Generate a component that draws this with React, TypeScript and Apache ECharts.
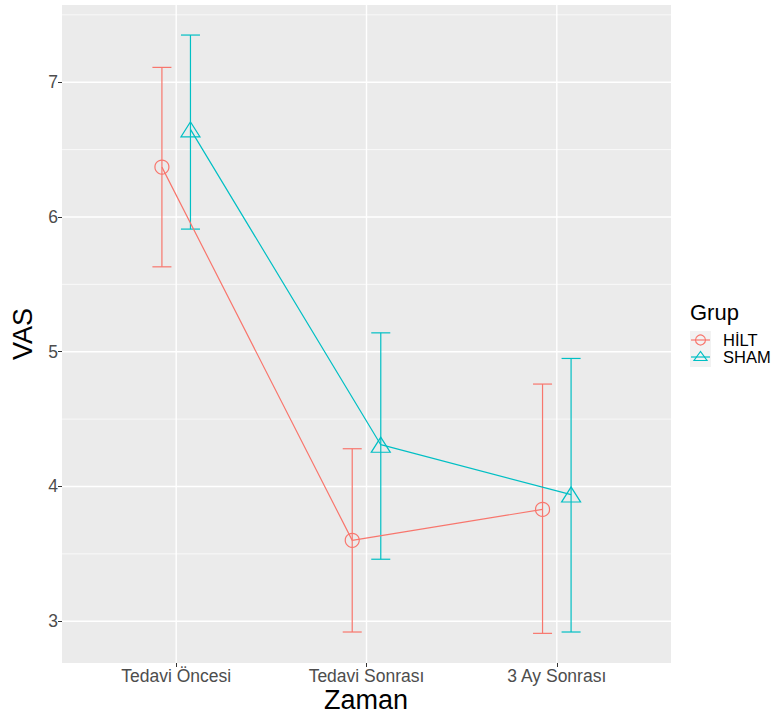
import React, { useEffect, useRef } from "react";
import * as echarts from "echarts";

const categories = ["Tedavi Öncesi", "Tedavi Sonrası", "3 Ay Sonrası"];
const groups = ["HİLT", "SHAM"];
const hiltMean = [6.37, 3.6, 3.83];
const hiltLow = [5.63, 2.92, 2.91];
const hiltHigh = [7.11, 4.28, 4.76];
const shamMean = [6.65, 4.31, 3.94];
const shamLow = [5.91, 3.46, 2.92];
const shamHigh = [7.35, 5.14, 4.95];
const yTicks = [3, 4, 5, 6, 7];
const yMinor = [3.5, 4.5, 5.5, 6.5, 7.5];

const RED = "#F8766D";
const CYAN = "#00BFC4";
const FONT = "Liberation Sans, Arial, Helvetica, sans-serif";
const DODGE = 0.075;
const CAP = 0.05;

export default function App() {
  const ref = useRef<HTMLDivElement>(null);
  useEffect(() => {
    if (!ref.current) return;
    const chart = echarts.init(ref.current, null, { renderer: "svg" });
    const catPos = categories.map((_, i) => i + 1);

    const errSeries = (color: string, off: number, lo: number[], hi: number[], name: string) => ({
      type: "custom",
      name: name + "_err",
      silent: true,
      z: 3,
      data: catPos.map((p, i) => [p + off, lo[i], hi[i]]),
      encode: { x: 0, y: [1, 2] },
      renderItem: (params: any, api: any) => {
        const x = api.value(0);
        const lo = api.value(1);
        const hi = api.value(2);
        const pLo = api.coord([x, lo]);
        const pHi = api.coord([x, hi]);
        const l = api.coord([x - CAP, hi])[0];
        const r = api.coord([x + CAP, hi])[0];
        const style = { stroke: color, lineWidth: 1.2, fill: "none" };
        return {
          type: "group",
          children: [
            { type: "line", shape: { x1: pLo[0], y1: pLo[1], x2: pHi[0], y2: pHi[1] }, style },
            { type: "line", shape: { x1: l, y1: pHi[1], x2: r, y2: pHi[1] }, style },
            { type: "line", shape: { x1: l, y1: pLo[1], x2: r, y2: pLo[1] }, style },
          ],
        };
      },
    });

    const gridLines = {
      type: "custom",
      silent: true,
      z: 1,
      data: [
        ...yMinor.map((v) => [0, v, 0.7]),
        ...yTicks.map((v) => [0, v, 1.4]),
        ...catPos.map((v) => [1, v, 1.4]),
      ],
      renderItem: (params: any, api: any) => {
        const cs = params.coordSys;
        const kind = api.value(0);
        const v = api.value(1);
        const w = api.value(2);
        if (kind === 0) {
          const y = api.coord([1, v])[1];
          return {
            type: "line",
            shape: { x1: cs.x, y1: y, x2: cs.x + cs.width, y2: y },
            style: { stroke: "#FFFFFF", lineWidth: w },
          };
        }
        const x = api.coord([v, 5])[0];
        return {
          type: "line",
          shape: { x1: x, y1: cs.y, x2: x, y2: cs.y + cs.height },
          style: { stroke: "#FFFFFF", lineWidth: w },
        };
      },
    };

    chart.setOption({
      animation: false,
      grid: {
        left: 62,
        top: 5,
        right: 106,
        bottom: 57,
        show: true,
        backgroundColor: "#EBEBEB",
        borderWidth: 0,
      },
      xAxis: {
        type: "value",
        min: 0.4,
        max: 3.6,
        axisLine: { show: false },
        splitLine: { show: false },
        axisTick: { show: true, length: 4, lineStyle: { color: "#333333", width: 1 }, customValues: catPos },
        axisLabel: {
          customValues: catPos,
          formatter: (v: number) => categories[Math.round(v) - 1] ?? "",
          color: "#4D4D4D",
          fontSize: 17.5,
          fontFamily: FONT,
          margin: 4,
        },
      },
      yAxis: {
        type: "value",
        min: 2.69,
        max: 7.573,
        axisLine: { show: false },
        splitLine: { show: false },
        axisTick: { show: true, length: 4, lineStyle: { color: "#333333", width: 1 }, customValues: yTicks },
        axisLabel: {
          customValues: yTicks,
          color: "#4D4D4D",
          fontSize: 17.5,
          fontFamily: FONT,
          margin: 4,
        },
      },
      series: [
        gridLines,
        errSeries(RED, -DODGE, hiltLow, hiltHigh, groups[0]),
        errSeries(CYAN, DODGE, shamLow, shamHigh, groups[1]),
        {
          type: "line",
          name: groups[0],
          z: 4,
          data: catPos.map((p, i) => [p - DODGE, hiltMean[i]]),
          symbol: "circle",
          symbolSize: 14,
          lineStyle: { color: RED, width: 1.2 },
          itemStyle: { color: "rgba(0,0,0,0)", borderColor: RED, borderWidth: 1.2 },
        },
        {
          type: "line",
          name: groups[1],
          z: 4,
          data: catPos.map((p, i) => [p + DODGE, shamMean[i]]),
          symbol: "triangle",
          symbolSize: [19, 15],
          lineStyle: { color: CYAN, width: 1.2 },
          itemStyle: { color: "rgba(0,0,0,0)", borderColor: CYAN, borderWidth: 1.2 },
        },
      ],
      graphic: [
        {
          type: "text",
          x: 366,
          y: 700,
          style: { text: "Zaman", font: `27px ${FONT}`, fill: "#000000", textAlign: "center", textVerticalAlign: "middle" },
        },
        {
          type: "text",
          x: 23,
          y: 334,
          rotation: Math.PI / 2,
          style: { text: "VAS", font: `27px ${FONT}`, fill: "#000000", textAlign: "center", textVerticalAlign: "middle" },
        },
        {
          type: "text",
          x: 690,
          y: 312,
          style: { text: "Grup", font: `22px ${FONT}`, fill: "#000000", textAlign: "left", textVerticalAlign: "middle" },
        },
        { type: "rect", shape: { x: 690, y: 331, width: 21, height: 36 }, style: { fill: "#F2F2F2" } },
        { type: "line", shape: { x1: 691, y1: 340, x2: 710, y2: 340 }, style: { stroke: RED, lineWidth: 1.2 } },
        { type: "circle", shape: { cx: 700.5, cy: 340, r: 5 }, style: { stroke: RED, fill: "none", lineWidth: 1.2 } },
        { type: "line", shape: { x1: 691, y1: 357, x2: 710, y2: 357 }, style: { stroke: CYAN, lineWidth: 1.2 } },
        {
          type: "polygon",
          shape: { points: [[700.5, 351.5], [694, 360.5], [707, 360.5]] },
          style: { stroke: CYAN, fill: "none", lineWidth: 1.2 },
        },
        {
          type: "text",
          x: 723,
          y: 340,
          style: { text: groups[0], font: `16.5px ${FONT}`, fill: "#000000", textAlign: "left", textVerticalAlign: "middle" },
        },
        {
          type: "text",
          x: 723,
          y: 357,
          style: { text: groups[1], font: `16.5px ${FONT}`, fill: "#000000", textAlign: "left", textVerticalAlign: "middle" },
        },
      ],
    });
    return () => chart.dispose();
  }, []);
  return <div ref={ref} style={{ position: "fixed", left: 0, top: 0, width: 777, height: 720, background: "#FFFFFF" }} />;
}
